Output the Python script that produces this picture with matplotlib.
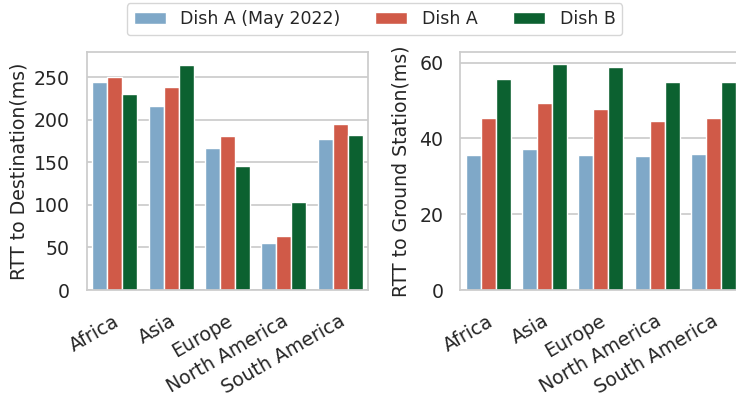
import matplotlib
matplotlib.use("Agg")
import matplotlib.pyplot as plt
import matplotlib.transforms as mtransforms
import numpy as np
import seaborn as sns

regions = ["Africa", "Asia", "Europe", "North America", "South America"]
series = ["Dish A (May 2022)", "Dish A", "Dish B"]

rtt_destination = {
    "Dish A (May 2022)": [244, 216, 167, 55, 177],
    "Dish A": [250, 239, 181, 63, 195],
    "Dish B": [231, 265, 146, 104, 182],
}
rtt_ground_station = {
    "Dish A (May 2022)": [35.7, 37.2, 35.7, 35.4, 35.9],
    "Dish A": [45.4, 49.4, 47.8, 44.7, 45.4],
    "Dish B": [55.6, 59.6, 58.7, 54.9, 54.9],
}
colors = ["#7fa8c8", "#d05a48", "#0c6130"]

sns.set_theme(style="whitegrid")
plt.rcParams["font.family"] = ["DejaVu Sans"]
plt.rcParams["axes.edgecolor"] = "#cccccc"
plt.rcParams["axes.linewidth"] = 1.25

FS = 13.6

fig = plt.figure(figsize=(7.36, 3.98), dpi=100)
ax1 = fig.add_axes([86.7 / 736, 108 / 398, 281.6 / 736, 237.7 / 398])
ax2 = fig.add_axes([460.0 / 736, 108 / 398, 281.6 / 736, 237.7 / 398])

x = np.arange(len(regions))
width = 0.8 / len(series)
shift = mtransforms.ScaledTranslation(8 / 100, 0, fig.dpi_scale_trans)


def draw(ax, data, ylabel, labelpad):
    for i, (name, col) in enumerate(zip(series, colors)):
        ax.bar(x + (i - 1) * width, data[name], width, color=col,
               edgecolor="white", linewidth=1.0, label=name, zorder=2)
    ax.set_xlim(-0.5, len(regions) - 0.5)
    ax.set_xticks(x)
    ax.tick_params(axis="y", labelsize=FS, labelcolor="#262626", pad=6)
    ax.tick_params(axis="x", pad=9.5)
    ax.set_xticklabels(regions, rotation=30, ha="right", fontsize=FS,
                       color="#262626")
    for lab in ax.get_xticklabels():
        lab.set_transform(lab.get_transform() + shift)
    ax.set_ylabel(ylabel, fontsize=FS, color="#262626", labelpad=labelpad)
    ax.grid(axis="x", visible=False)
    ax.grid(axis="y", color="#cccccc", linewidth=1.25)
    ax.set_axisbelow(True)


draw(ax1, rtt_destination, "RTT to Destination(ms)", 4)
ax1.set_ylim(0, 279.5)
ax1.set_yticks([0, 50, 100, 150, 200, 250])
draw(ax2, rtt_ground_station, "RTT to Ground Station(ms)", 6)
ax2.set_ylim(0, 62.7)
ax2.set_yticks([0, 20, 40, 60])

handles, labels = ax1.get_legend_handles_labels()
fig.legend(handles, labels, loc="upper center", ncol=3,
           bbox_to_anchor=(374.5 / 736, 1 - 1.5 / 398), fontsize=12.5,
           frameon=True, handlelength=1.85, handletextpad=0.85,
           columnspacing=2.0, borderpad=0.4, borderaxespad=0.1,
           edgecolor="#cccccc")

fig.savefig("out.png", dpi=100)
